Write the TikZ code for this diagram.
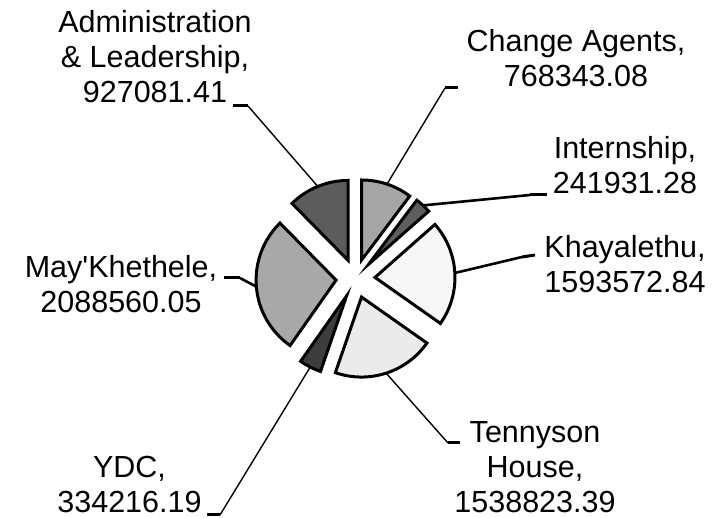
\documentclass[tikz,border=0pt]{standalone}
\usepackage{fontspec}
\setmainfont{Liberation Sans}
\usetikzlibrary{calc}
\definecolor{cAdmin}{gray}{0.36}
\definecolor{cChange}{gray}{0.65}
\definecolor{cIntern}{gray}{0.37}
\definecolor{cKhaya}{gray}{0.97}
\definecolor{cTenny}{gray}{0.92}
\definecolor{cYDC}{gray}{0.24}
\definecolor{cMay}{gray}{0.66}
\newcommand\pieslice[4]{%
  \pgfmathsetmacro\midang{(#2+#3)/2}%
  \coordinate (#1-apex) at ($(C)+(\midang:19.5)$);
  \coordinate (#1-arc) at ($(#1-apex)+(\midang:80)$);
  \draw[slicebox,fill=#4] (#1-apex) -- ++(#2:80) arc[start angle=#2,end angle=#3,radius=80] -- cycle;
}
\begin{document}
\begin{tikzpicture}[x=1pt,y=1pt,
  slicebox/.style={draw=black,line width=3pt,line join=miter},
  lbl/.style={align=center,inner sep=0pt,anchor=base,font=\fontsize{30.5}{35}\selectfont},
  leader/.style={draw=black,line width=1.4pt},
  thickleader/.style={draw=black,line width=2.6pt},
  tick/.style={draw=black,line width=3pt}]
\useasboundingbox (0,0) rectangle (717,518);
\coordinate (C) at (355.5,239.5);
% slices (angles counter-clockwise from east)
\pieslice{admin}{90}{134.54}{cAdmin}
\pieslice{change}{53.08}{90}{cChange}
\pieslice{intern}{41.46}{53.08}{cIntern}
\pieslice{khaya}{-35.11}{41.46}{cKhaya}
\pieslice{tenny}{-109.05}{-35.11}{cTenny}
\pieslice{ydc}{-125.11}{-109.05}{cYDC}
\pieslice{may}{-225.46}{-125.11}{cMay}
% labels (anchor = baseline of last line)
\node[lbl] (Ladmin) at (155,415) {Administration\\\& Leadership,\\927081.41};
\node[lbl] (Lchange) at (576,431) {Change Agents,\\768343.08};
\node[lbl] (Lintern) at (625,324) {Internship,\\241931.28};
\node[lbl] (Lkhaya) at (625,225) {Khayalethu,\\1593572.84};
\node[lbl] (Ltenny) at (535,5) {Tennyson\\House,\\1538823.39};
\node[lbl] (Lydc) at (129.5,5) {YDC,\\334216.19};
\node[lbl] (Lmay) at (121,205) {May\textquotesingle Khethele,\\2088560.05};
% leader line end points
\coordinate (admin-t1) at (233,412);
\coordinate (admin-t2) at (248,412);
\coordinate (change-t1) at (445,430);
\coordinate (change-t2) at (458,430);
\coordinate (intern-t1) at (530,323);
\coordinate (intern-t2) at (547,323);
\coordinate (khaya-t1) at (522,261);
\coordinate (khaya-t2) at (535,263);
\coordinate (tenny-t1) at (448,75);
\coordinate (tenny-t2) at (460,75);
\coordinate (ydc-t1) at (220,3);
\coordinate (ydc-t2) at (207,3);
\coordinate (may-t1) at (240,240);
\coordinate (may-t2) at (224,240);
% leaders
\draw[leader] (admin-arc) -- (admin-t2);
\draw[tick] (admin-t2) -- (admin-t1);
\draw[leader] (change-arc) -- (change-t1);
\draw[tick] (change-t1) -- (change-t2);
\draw[thickleader] (intern-arc) -- (intern-t1);
\draw[tick] (intern-t1) -- (intern-t2);
\draw[thickleader] (khaya-arc) -- (khaya-t1);
\draw[tick] (khaya-t1) -- (khaya-t2);
\draw[leader] (tenny-arc) -- (tenny-t1);
\draw[tick] (tenny-t1) -- (tenny-t2);
\draw[leader] (ydc-arc) -- (ydc-t1);
\draw[tick] (ydc-t1) -- (ydc-t2);
\draw[thickleader] (may-arc) -- (may-t1);
\draw[tick] (may-t1) -- (may-t2);
\end{tikzpicture}
\end{document}
